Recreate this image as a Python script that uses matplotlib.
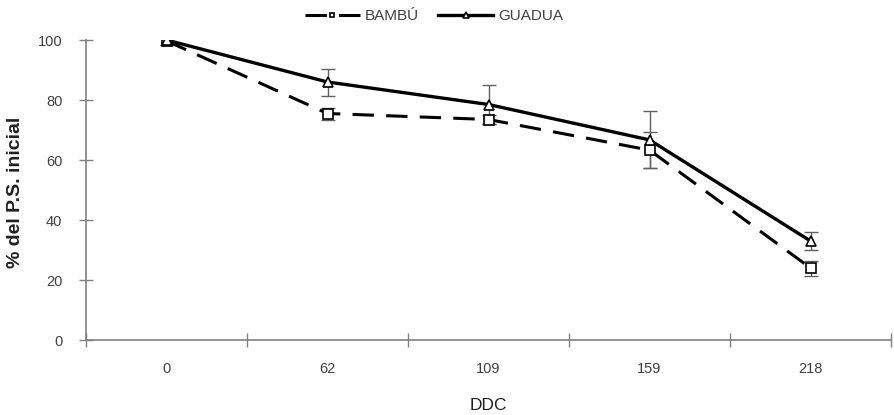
import matplotlib
matplotlib.use("Agg")
import matplotlib.pyplot as plt
import numpy as np

plt.rcParams['font.family'] = ['Liberation Sans', 'DejaVu Sans']

categories = ["0", "62", "109", "159", "218"]
bambu = [99.7, 75.5, 73.5, 63.3, 24.0]
bambu_err = [1.5, 2.0, 1.5, 6.0, 2.5]
guadua = [100.0, 86.0, 78.5, 66.7, 33.0]
guadua_err = [1.5, 4.5, 6.5, 9.5, 3.0]
yticks = [0, 20, 40, 60, 80, 100]

fig = plt.figure(figsize=(8.95, 4.15), dpi=100)
ax = fig.add_axes([86/895, 1-340/415, (891-86)/895, 300/415])

x = np.arange(len(categories))
gray = "#808080"
tgray = "#404040"

ax.errorbar(x, bambu, yerr=bambu_err, fmt='none', ecolor="#606060", elinewidth=1, capsize=5, capthick=1, zorder=2)
ax.errorbar(x, guadua, yerr=guadua_err, fmt='none', ecolor="#606060", elinewidth=1, capsize=5, capthick=1, zorder=2)
l1, = ax.plot(x, bambu, color='black', lw=2.2, dashes=(7, 4), marker='s', markersize=6.5,
              markerfacecolor='white', markeredgecolor='black', markeredgewidth=1.2, zorder=3, label='BAMBÚ')
l2, = ax.plot(x, guadua, color='black', lw=2.4, marker='^', markersize=7.5,
              markerfacecolor='white', markeredgecolor='black', markeredgewidth=1.2, zorder=4, label='GUADUA')

ax.set_xlim(-0.5, len(categories) - 0.5)
ax.set_ylim(0, 100)
ax.set_yticks(yticks)
ax.set_yticklabels([str(v) for v in yticks], color=tgray, fontsize=10.5)
ax.set_xticks(np.arange(len(categories) + 1) - 0.5)
ax.set_xticklabels([])
ax.set_xticks(x, minor=True)
ax.set_xticklabels(categories, minor=True, color=tgray, fontsize=10.5)
ax.tick_params(axis='x', which='major', direction='inout', length=10, width=1, color=gray)
ax.tick_params(axis='x', which='minor', length=0, pad=16)
ax.tick_params(axis='y', direction='inout', length=10, width=1, color=gray, pad=12)

for s in ['top', 'right']:
    ax.spines[s].set_visible(False)
for s in ['left', 'bottom']:
    ax.spines[s].set_color(gray)
    ax.spines[s].set_linewidth(1.2)

ax.set_xlabel("DDC", fontsize=12.5, color='#202020', labelpad=16)
fig.text(16/895, 1-192/415, "% del P.S. inicial", rotation=90, ha='center', va='center',
         fontsize=14, fontweight='bold', color='#202020')

leg = fig.legend(handles=[l1, l2], loc='center', bbox_to_anchor=(434/895, 1-16/415), ncol=2,
                 frameon=False, fontsize=11, handlelength=3.6, columnspacing=1.25,
                 handletextpad=0.33, markerscale=0.55)
for t in leg.get_texts():
    t.set_color(tgray)

fig.savefig("out.png", dpi=100)
